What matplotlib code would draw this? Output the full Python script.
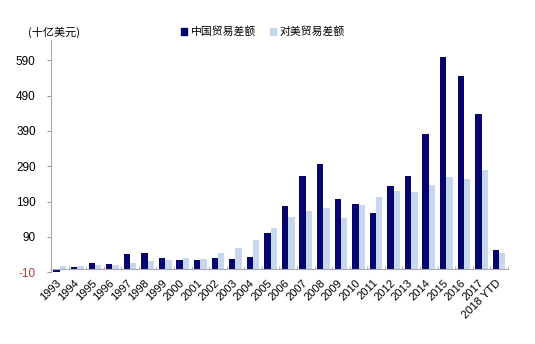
import numpy as np
import matplotlib
matplotlib.use('Agg')
import matplotlib.pyplot as plt
from matplotlib.patches import Patch

plt.rcParams['font.family'] = ['Liberation Sans', 'Noto Sans CJK SC', 'DejaVu Sans']

years = ['1993', '1994', '1995', '1996', '1997', '1998', '1999', '2000', '2001',
         '2002', '2003', '2004', '2005', '2006', '2007', '2008', '2009', '2010',
         '2011', '2012', '2013', '2014', '2015', '2016', '2017', '2018 YTD']
china_balance = [-12, 5, 17, 13, 41, 44, 30, 24, 23, 30, 26, 33, 102, 177, 262,
                 297, 198, 184, 157, 233, 261, 380, 600, 546, 438, 54]
us_balance = [6, 8, 10, 11, 16, 21, 23, 30, 28, 44, 59, 81, 115, 146, 164,
              172, 143, 181, 203, 221, 217, 237, 260, 254, 279, 43]
yticks = [-10, 90, 190, 290, 390, 490, 590]

DARK = '#06066e'
LIGHT = '#c6d7ef'

fig = plt.figure(figsize=(5.35, 3.44), dpi=100)
ax = fig.add_axes([0.0953, 0.209, 0.854, 0.675])

x = np.arange(len(years))
w = 0.36
ax.bar(x - w / 2, china_balance, w, color=DARK, zorder=2)
ax.bar(x + w / 2, us_balance, w, color=LIGHT, zorder=2)

ax.set_xlim(-0.5, len(years) - 0.5)
ax.set_ylim(-10, 648)
ax.set_yticks(yticks)
ax.set_yticklabels([str(v) for v in yticks], fontsize=8.5)
ax.get_yticklabels()[0].set_color('#b03a3a')
ax.tick_params(axis='y', length=3, color='#999999', pad=8)

ax.spines['bottom'].set_position(('data', 0))
ax.spines['bottom'].set_color('#aaaaaa')
ax.spines['left'].set_color('#aaaaaa')
ax.spines['top'].set_visible(False)
ax.spines['right'].set_visible(False)

ax.set_xticks(x)
ax.set_xticklabels(years, rotation=45, ha='right', va='center',
                   rotation_mode='anchor', fontsize=8)
ax.tick_params(axis='x', length=0, pad=9)
ax.set_xticks(np.arange(-0.5, len(years)), minor=True)
ax.tick_params(axis='x', which='minor', length=2, direction='in', color='#aaaaaa')

fig.text(0.052, 0.905, '(十亿美元)', fontsize=8, ha='left', va='center',
         family=['Noto Sans CJK SC', 'DejaVu Sans'])

handles = [Patch(color=DARK), Patch(color=LIGHT)]
leg = fig.legend(handles, ['中国贸易差额', '对美贸易差额'], loc='center',
                 bbox_to_anchor=(0.492, 0.907), ncol=2, frameon=False,
                 handlelength=0.55, handleheight=0.55,
                 handletextpad=0.35, columnspacing=1.3,
                 prop={'family': ['Noto Sans CJK SC', 'DejaVu Sans'], 'size': 7.8})

fig.savefig('out.png', dpi=100)
